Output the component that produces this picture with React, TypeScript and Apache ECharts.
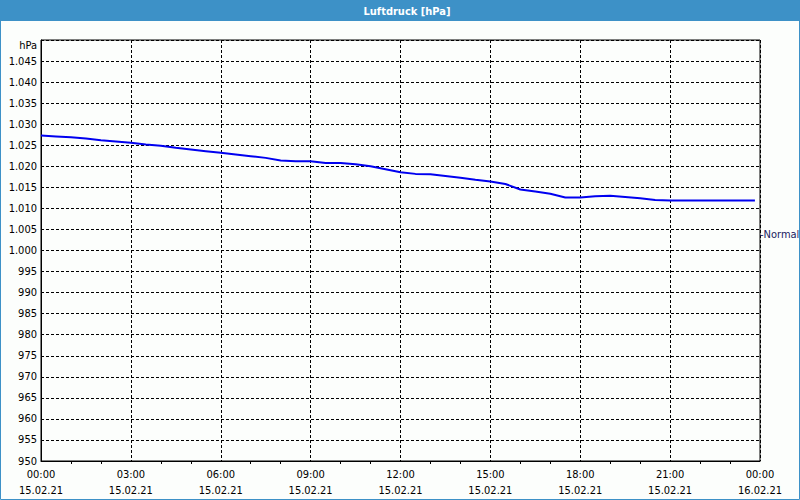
import React, { useEffect, useRef } from "react";
import * as echarts from "echarts";

// Hours since 15.02.21 00:00
const hours = [
  0, 0.5, 1, 1.5, 2, 2.5, 3, 3.5, 4, 4.5, 5, 5.5, 6, 6.5, 7, 7.5, 8, 8.5, 9, 9.5,
  10, 10.5, 11, 11.5, 12, 12.5, 13, 13.5, 14, 14.5, 15, 15.5, 16, 16.5, 17, 17.5,
  18, 18.5, 19, 19.5, 20, 20.5, 21, 21.5, 22, 22.5, 23, 23.5, 23.83,
];
// Air pressure, hPa
const pressure = [
  1027.3, 1027.1, 1026.9, 1026.6, 1026.2, 1025.9, 1025.6, 1025.2, 1024.9, 1024.4,
  1024.0, 1023.6, 1023.2, 1022.8, 1022.4, 1022.0, 1021.4, 1021.2, 1021.2, 1020.8,
  1020.8, 1020.5, 1020.0, 1019.3, 1018.6, 1018.2, 1018.1, 1017.7, 1017.3, 1016.8,
  1016.4, 1015.8, 1014.5, 1014.0, 1013.5, 1012.6, 1012.6, 1012.9, 1013.0, 1012.7,
  1012.4, 1012.0, 1011.9, 1011.9, 1011.9, 1011.9, 1011.9, 1011.9, 1011.9,
];
const xTickHours = [0, 3, 6, 9, 12, 15, 18, 21, 24];
const xTickLabels = [
  "00:00\n15.02.21", "03:00\n15.02.21", "06:00\n15.02.21", "09:00\n15.02.21",
  "12:00\n15.02.21", "15:00\n15.02.21", "18:00\n15.02.21", "21:00\n15.02.21",
  "00:00\n16.02.21",
];
const yMin = 950;
const yMax = 1050;
const yStep = 5;
const normalValue = 1003.8;
const normalLabel = "Normal";
const title = "Luftdruck [hPa]";
const unitLabel = "hPa";

const FONT = "'DejaVu Sans Condensed', 'Liberation Sans', sans-serif";

export default function App() {
  const ref = useRef<HTMLDivElement>(null);
  useEffect(() => {
    if (!ref.current) return;
    const chart = echarts.init(ref.current, undefined, { renderer: "svg" });
    const fmtY = (v: number) => {
      if (v === yMax) return "{u|" + unitLabel + "}";
      if (v >= 1000) {
        const s = String(v);
        return s.slice(0, 1) + "." + s.slice(1);
      }
      return String(v);
    };
    chart.setOption({
      animation: false,
      backgroundColor: "#fcfefc",
      textStyle: { fontFamily: FONT },
      grid: {
        left: 41,
        right: 40,
        top: 40,
        bottom: 39,
        show: true,
        borderColor: "#000",
        borderWidth: 1,
        backgroundColor: "transparent",
      },
      graphic: [
        {
          type: "rect",
          shape: { x: 0, y: 0, width: 800, height: 21 },
          style: { fill: "#3d91c7" },
          silent: true,
        },
        {
          type: "rect",
          shape: { x: 0.5, y: 0.5, width: 799, height: 499 },
          style: { fill: "none", stroke: "#3d91c7", lineWidth: 1 },
          silent: true,
        },
        {
          type: "text",
          x: 407,
          y: 11,
          style: {
            text: title,
            fill: "#ffffff",
            font: "bold 11px " + FONT,
            align: "center",
            verticalAlign: "middle",
          },
          silent: true,
        },
      ],
      xAxis: {
        type: "value",
        min: 0,
        max: 24,
        interval: 3,
        axisLine: { show: true, lineStyle: { color: "#000", width: 1 } },
        axisTick: { show: false },
        minorTick: { show: true, splitNumber: 3, length: 3, lineStyle: { color: "#000" } },
        axisLabel: {
          color: "#000",
          fontSize: 11,
          fontFamily: FONT,
          lineHeight: 16,
          margin: 5,
          formatter: (v: number) => {
            const i = xTickHours.indexOf(v);
            return i >= 0 ? xTickLabels[i] : "";
          },
        },
        splitLine: {
          show: true,
          lineStyle: { color: "#000", type: [3, 2], width: 1 },
        },
      },
      yAxis: {
        type: "value",
        min: yMin,
        max: yMax,
        interval: yStep,
        axisLine: { show: true, lineStyle: { color: "#000", width: 1 } },
        axisTick: { show: false },
        axisLabel: {
          color: "#000",
          fontSize: 11,
          fontFamily: FONT,
          margin: 4,
          formatter: fmtY,
          rich: { u: { fontSize: 11, fontFamily: FONT, color: "#000", padding: [10, 0, 0, 0] } },
        },
        splitLine: {
          show: true,
          lineStyle: { color: "#000", type: [3, 2], width: 1 },
        },
      },
      series: [
        {
          type: "line",
          data: hours.map((h, i) => [h, pressure[i]]),
          showSymbol: false,
          lineStyle: { color: "#0000f0", width: 2 },
          itemStyle: { color: "#0000f0" },
          markLine: {
            silent: true,
            symbol: "none",
            animation: false,
            data: [{ yAxis: normalValue }],
            lineStyle: { color: "rgba(0,0,0,0)", width: 1, type: "solid" },
            label: {
              show: true,
              position: "end",
              formatter: "-" + normalLabel,
              color: "#1a1a60",
              fontSize: 11,
              fontFamily: FONT,
              distance: 0,
            },
          },
        },
      ],
    });
    return () => chart.dispose();
  }, []);
  return (
    <div
      ref={ref}
      style={{ position: "fixed", left: 0, top: 0, width: 800, height: 500 }}
    />
  );
}
